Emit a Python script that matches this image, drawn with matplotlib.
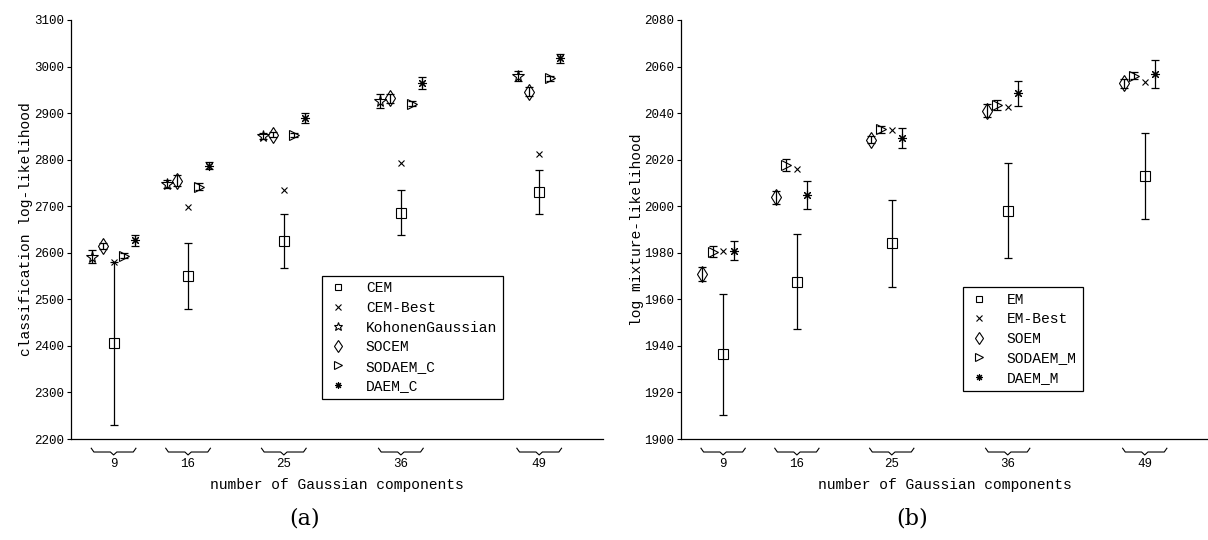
import numpy as np
import matplotlib
matplotlib.use('Agg')
import matplotlib.pyplot as plt
from matplotlib.transforms import blended_transform_factory

plt.rcParams['font.family'] = ['Liberation Mono', 'DejaVu Sans']

n_comp = [9, 16, 25, 36, 49]

# (a) classification log-likelihood
cem = [2406, 2551, 2625, 2686, 2731]
cem_err = [175, 71, 58, 48, 47]
cem_best = [2580, 2698, 2735, 2792, 2812]
kohonen = [2592, 2748, 2851, 2925, 2980]
kohonen_err = [14, 8, 6, 15, 11]
socem = [2614, 2755, 2854, 2932, 2946]
socem_err = [6, 12, 5, 10, 10]
sodaem_c = [2594, 2742, 2853, 2920, 2975]
sodaem_c_err = [5, 7, 5, 5, 5]
daem_c = [2627, 2787, 2889, 2965, 3018]
daem_c_err = [12, 8, 11, 13, 10]

# (b) log mixture-likelihood
em = [1936.4, 1967.6, 1984.1, 1998.1, 2013.0]
em_err = [26, 20.5, 18.7, 20.4, 18.3]
em_best = [1980.9, 2016.0, 2032.7, 2042.8, 2053.5]
soem = [1970.8, 2003.8, 2028.5, 2041.0, 2052.8]
soem_err = [3, 2.7, 1.5, 2.7, 2]
sodaem_m = [1980.5, 2017.7, 2033.0, 2043.5, 2056.0]
sodaem_m_err = [2.5, 2.5, 1.5, 2, 1.5]
daem_m = [1980.9, 2004.8, 2029.2, 2048.5, 2056.8]
daem_m_err = [4, 6, 4.3, 5.5, 6]

ASTER = (8, 2, 0)


def series(ax, x, y, err, marker, ms, label):
    x = np.asarray(x, float)
    if err is not None:
        ax.errorbar(x, y, yerr=err, fmt='none', ecolor='black',
                    elinewidth=0.9, capsize=3.2, capthick=0.9)
    ax.plot(x, y, linestyle='none', marker=marker, ms=ms, mfc='none',
            mec='black', mew=0.8, color='black', label=label)


def brace(ax, xc, half):
    # curly brace under each group, with the group size below it
    tr = blended_transform_factory(ax.transData, ax.transAxes)
    top, mid, bot = -0.022, -0.031, -0.038
    xs = [xc - half, xc - half + 0.25, xc - 0.3, xc, xc + 0.3, xc + half - 0.25, xc + half]
    ys = [top, mid, mid, bot, mid, mid, top]
    ax.plot(xs, ys, color='black', lw=0.8, transform=tr, clip_on=False)
    ax.text(xc, -0.06, str(int(round(xc))), transform=tr, ha='center', va='center', fontsize=9)


def style(ax, ylim, ystep, ylabel):
    ax.set_xlim(5, 55)
    ax.set_ylim(*ylim)
    ax.set_yticks(np.arange(ylim[0], ylim[1] + ystep / 2, ystep))
    ax.set_xticks([])
    for s in ['top', 'right']:
        ax.spines[s].set_visible(False)
    for s in ['left', 'bottom']:
        ax.spines[s].set_linewidth(0.9)
    ax.tick_params(axis='y', direction='out', length=3, width=0.8, labelsize=9, pad=2)
    ax.set_xlabel('number of Gaussian components', fontsize=10.5)
    ax.xaxis.set_label_coords(0.5, -0.092)
    ax.set_ylabel(ylabel, fontsize=10.5)
    ax.yaxis.set_label_coords(-0.071, 0.5)
    for n in n_comp:
        brace(ax, n, 2.1)


fig = plt.figure(figsize=(12.08, 5.4), dpi=100)
ax1 = fig.add_axes([0.0588, 0.187, 0.4404, 0.776])
ax2 = fig.add_axes([0.5637, 0.187, 0.4363, 0.776])

x = np.array(n_comp, float)
series(ax1, x, cem, cem_err, 's', 6.5, 'CEM')
series(ax1, x, cem_best, None, 'x', 5, 'CEM-Best')
series(ax1, x - 2, kohonen, kohonen_err, '*', 8.5, 'KohonenGaussian')
series(ax1, x - 1, socem, socem_err, 'd', 8.5, 'SOCEM')
series(ax1, x + 1, sodaem_c, sodaem_c_err, '>', 7, 'SODAEM_C')
series(ax1, x + 2, daem_c, daem_c_err, ASTER, 6.5, 'DAEM_C')
style(ax1, (2200, 3100), 100, 'classification log-likelihood')

series(ax2, x, em, em_err, 's', 6.5, 'EM')
series(ax2, x, em_best, None, 'x', 5, 'EM-Best')
series(ax2, x - 2, soem, soem_err, 'd', 8.5, 'SOEM')
series(ax2, x - 1, sodaem_m, sodaem_m_err, '>', 7, 'SODAEM_M')
series(ax2, x + 1, daem_m, daem_m_err, ASTER, 6.5, 'DAEM_M')
style(ax2, (1900, 2080), 20, 'log mixture-likelihood')

for ax, anchor in [(ax1, (0.472, 0.39)), (ax2, (0.535, 0.363))]:
    leg = ax.legend(loc='upper left', bbox_to_anchor=anchor, fontsize=10.5,
                    fancybox=False, edgecolor='black', framealpha=1,
                    borderaxespad=0, handlelength=1.4, handletextpad=1.2,
                    labelspacing=0.38, borderpad=0.4, markerscale=0.75)
    leg.get_frame().set_linewidth(0.9)

fig.text(0.252, 0.039, '(a)', ha='center', va='center', fontsize=16, family='DejaVu Serif')
fig.text(0.755, 0.039, '(b)', ha='center', va='center', fontsize=16, family='DejaVu Serif')

fig.savefig('out.png', dpi=100)
